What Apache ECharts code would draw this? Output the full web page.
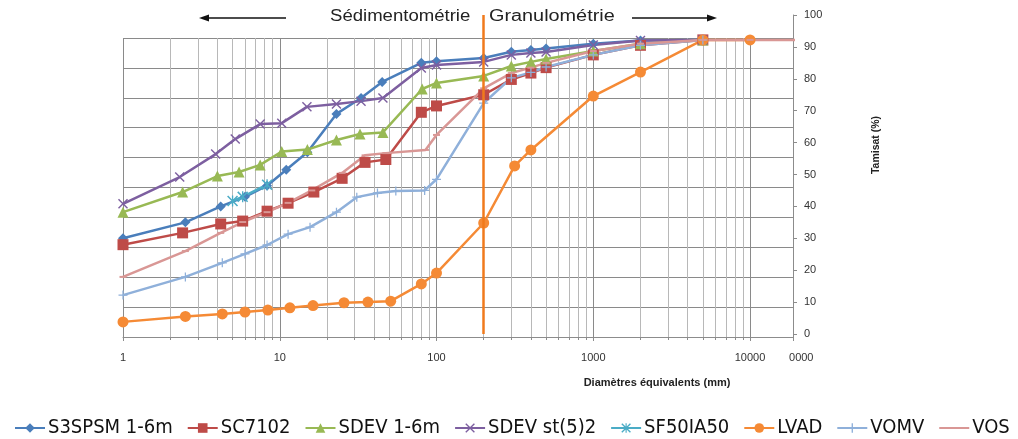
<!DOCTYPE html>
<html>
<head>
<meta charset="utf-8">
<script src="https://cdn.jsdelivr.net/npm/echarts@6/dist/echarts.min.js"></script>
<style>
html,body{margin:0;padding:0;background:#fff;}
#chart{width:1018px;height:439px;}
</style>
</head>
<body>
<div id="chart"></div>
<script>
// ---- data ----
var seriesNames = ['S3SPSM 1-6m','SC7102','SDEV 1-6m','SDEV st(5)2','SF50IA50','LVAD','VOMV','VOS'];

var s3spsmX = [1, 2.5, 4.2, 6, 8.3, 11, 15, 23, 33, 45, 80, 100, 200, 300, 400, 500, 1000, 2000, 5000];
var s3spsmY = [30, 35, 40, 43, 46.5, 51.5, 57, 69, 74, 79, 85, 85.5, 86.5, 88.5, 89, 89.5, 91, 92, 92.2];

var sc7102X = [1, 2.4, 4.2, 5.8, 8.3, 11.3, 16.5, 25, 35, 47.5, 80, 100, 200, 300, 400, 500, 1000, 2000, 5000];
var sc7102Y = [28, 31.7, 34.5, 35.4, 38.5, 41, 44.5, 48.8, 53.8, 54.7, 69.5, 71.5, 75, 79.8, 81.8, 83.5, 87.5, 90.5, 92.2];

var sdevX = [1, 2.4, 4, 5.5, 7.5, 10.3, 15, 23, 32.5, 45.5, 81, 100, 200, 300, 400, 500, 1000, 2000, 5000];
var sdevY = [38.2, 44.5, 49.5, 50.8, 53, 57.2, 57.8, 60.8, 62.7, 63.2, 76.8, 78.7, 80.9, 84, 85.3, 86.2, 88.7, 91, 92.2];

var sdevStX = [1, 2.3, 3.9, 5.2, 7.5, 10.3, 14.9, 23, 33, 45.5, 80, 100, 200, 300, 400, 500, 1000, 2000, 5000];
var sdevStY = [40.8, 49.2, 56.4, 61.1, 65.8, 66.1, 71.2, 72.1, 73, 74, 83.4, 84.3, 85.3, 87.5, 88.1, 88.4, 90.6, 92, 92.2];

var sf50X = [5, 5.8, 8.3];
var sf50Y = [41.7, 43, 46.8];

var lvadX = [1, 2.5, 4.3, 6, 8.4, 11.6, 16.3, 25.7, 36.5, 51, 80, 100, 200, 315, 400, 1000, 2000, 5000, 10000];
var lvadY = [3.8, 5.5, 6.3, 6.9, 7.5, 8.2, 8.9, 9.8, 10, 10.3, 15.7, 19.1, 34.8, 52.7, 57.7, 74.6, 82.1, 92.2, 92.2];

var vomvX = [1, 2.5, 4.3, 6, 8.3, 11.3, 15.6, 23, 31, 42, 55, 84, 100, 200, 300, 400, 500, 1000, 2000, 5000];
var vomvY = [12.2, 17.9, 22.3, 25.1, 27.9, 31.3, 33.5, 38.2, 42.9, 44.2, 44.8, 45, 48.5, 72.4, 80.3, 82, 83.7, 87.5, 90.5, 92.2];

var vosX = [1, 2.5, 4.2, 5.8, 8.3, 11.3, 16, 25, 35, 47.5, 85, 100, 200, 300, 400, 500, 1000, 2000, 5000, 10000, 20000];
var vosY = [17.9, 26, 31.7, 35.1, 38.2, 41.1, 45, 50.5, 56, 56.7, 57.7, 62.4, 77, 81.8, 83.5, 85, 88.7, 91, 92.2, 92.2, 92.2];

var limitDiameter = 200;          // séparation sédimentométrie / granulométrie
var xMin = 1, xMax = 18794;
var yTicks = [0, 100, 10];        // min, max, interval

// ---- chart ----
function pairs(xs, ys){ return xs.map(function(x,i){ return [x, ys[i]]; }); }

var xPath = 'path://M1,0 L5,4 L9,0 L10,1 L6,5 L10,9 L9,10 L5,6 L1,10 L0,9 L4,5 L0,1 Z';
var starPath = 'path://M1,0 L5,4 L9,0 L10,1 L6,5 L10,9 L9,10 L5,6 L1,10 L0,9 L4,5 L0,1 Z M4.4,0 L5.6,0 L5.6,10 L4.4,10 Z';
var plusPath = 'path://M4.3,0 L5.7,0 L5.7,4.3 L10,4.3 L10,5.7 L5.7,5.7 L5.7,10 L4.3,10 L4.3,5.7 L0,5.7 L0,4.3 L4.3,4.3 Z';
var dashPath = 'path://M0,0 L10,0 L10,2 L0,2 Z';

var FONT = "'Liberation Sans', Arial, sans-serif";
var NARROW = "'Liberation Sans Narrow', 'DejaVu Sans Condensed', 'Liberation Sans', sans-serif";

function line(name, data, color, symbol, size, extra){
  var s = {
    name: name, type: 'line', xAxisIndex: 0, yAxisIndex: 0,
    data: data, color: color, symbol: symbol, symbolSize: size,
    lineStyle: {width: 2.5, color: color},
    itemStyle: {color: color},
    emphasis: {disabled: true},
    animation: false
  };
  if (extra) for (var k in extra) s[k] = extra[k];
  return s;
}

var legendData = seriesNames.map(function(n){
  return n === 'VOS' ? {name: n, itemStyle: {opacity: 0}} : {name: n};
});

var chart = echarts.init(document.getElementById('chart'), null, {renderer: 'canvas'});
chart.setOption({
  backgroundColor: '#ffffff',
  animation: false,
  grid: [
    {left: 123, right: 225, top: 15, bottom: 105},
    {left: 123, right: 225, top: 38, bottom: 102}
  ],
  xAxis: [
    {type: 'log', gridIndex: 0, min: xMin, max: xMax, show: false},
    {type: 'log', gridIndex: 1, min: xMin, max: xMax,
      axisLine: {show: true, lineStyle: {color: '#8c8c8c', width: 1}},
      axisTick: {show: true, length: 4, lineStyle: {color: '#8c8c8c'}},
      minorTick: {show: true, splitNumber: 9, length: 3, lineStyle: {color: '#8c8c8c'}},
      splitLine: {show: true, lineStyle: {color: '#8a8a8a', width: 1}},
      minorSplitLine: {show: true, lineStyle: {color: '#b8b8b8', width: 1}},
      axisLabel: {margin: 15, color: '#333', fontSize: 11, fontFamily: FONT,
        formatter: function(v){ return v > 15000 ? '\u2003\u20020000' : String(v); }}
    }
  ],
  yAxis: [
    {type: 'value', gridIndex: 0, position: 'right', min: yTicks[0], max: yTicks[1], interval: yTicks[2],
      axisLine: {show: true, lineStyle: {color: '#8c8c8c', width: 1}},
      axisTick: {show: true, length: 4, lineStyle: {color: '#8c8c8c'}},
      splitLine: {show: false},
      axisLabel: {margin: 11, color: '#333', fontSize: 11, fontFamily: FONT}
    },
    {type: 'value', gridIndex: 1, min: yTicks[0], max: yTicks[1], interval: yTicks[2],
      axisLine: {show: false}, axisTick: {show: false}, axisLabel: {show: false},
      splitLine: {show: true, lineStyle: {color: '#8a8a8a', width: 1}}
    }
  ],
  legend: {
    data: legendData,
    left: 9, top: 413, width: 1008,
    itemWidth: 30, itemHeight: 12, itemGap: 14,
    textStyle: {fontSize: 20, color: '#111', fontFamily: NARROW, padding: [0,0,0,-2]}
  },
  graphic: [
    {type: 'text', x: 330, y: 9, scaleX: 1.16, style: {text: 'Sédimentométrie', fill: '#222', font: '16px ' + FONT}},
    {type: 'text', x: 489, y: 9, scaleX: 1.24, style: {text: 'Granulométrie', fill: '#222', font: '16px ' + FONT}},
    {type: 'line', shape: {x1: 206, y1: 18, x2: 286, y2: 18}, style: {stroke: '#111', lineWidth: 1.5}},
    {type: 'polygon', shape: {points: [[199,18],[209,14.5],[209,21.5]]}, style: {fill: '#111'}},
    {type: 'line', shape: {x1: 632, y1: 18, x2: 710, y2: 18}, style: {stroke: '#111', lineWidth: 1.5}},
    {type: 'polygon', shape: {points: [[717,18],[707,14.5],[707,21.5]]}, style: {fill: '#111'}},
    {type: 'text', x: 657, y: 383, style: {text: 'Diamètres équivalents (mm)', align: 'center', verticalAlign: 'middle',
      font: 'bold 11px ' + FONT, fill: '#222'}},
    {type: 'text', x: 876, y: 145, rotation: Math.PI / 2, style: {text: 'Tamisat (%)', align: 'center', verticalAlign: 'middle',
      font: 'bold 10.5px ' + FONT, fill: '#222'}}
  ],
  series: [
    line(seriesNames[0], pairs(s3spsmX, s3spsmY), '#4a7ebb', 'diamond', 10),
    line(seriesNames[1], pairs(sc7102X, sc7102Y), '#be4b48', 'rect', 11),
    line(seriesNames[2], pairs(sdevX, sdevY), '#98b954', 'triangle', 11),
    line(seriesNames[3], pairs(sdevStX, sdevStY), '#7d5fa0', xPath, 10),
    line(seriesNames[4], pairs(sf50X, sf50Y), '#4bacc6', starPath, 11),
    line(seriesNames[5], pairs(lvadX, lvadY), '#f58a35', 'circle', 11, {
      markLine: {silent: true, symbol: 'none', label: {show: false},
        lineStyle: {color: '#f07a1c', width: 2.5, type: 'solid'},
        data: [{xAxis: limitDiameter}]}
    }),
    line(seriesNames[6], pairs(vomvX, vomvY), '#8fb0da', plusPath, 9),
    line(seriesNames[7], pairs(vosX, vosY), '#d99795', dashPath, [7, 2])
  ]
});
</script>
</body>
</html>
